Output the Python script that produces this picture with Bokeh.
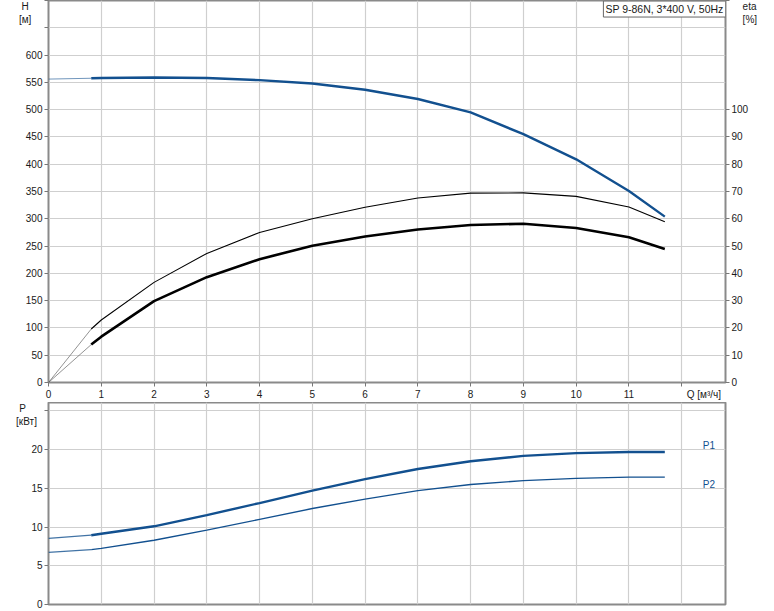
from bokeh.plotting import figure
from bokeh.models import Range1d, LinearAxis, FixedTicker, Label
from bokeh.layouts import column
from bokeh.embed import file_html
from bokeh.resources import INLINE

# ---- data ----
q = [0.81, 1, 2, 3, 4, 5, 6, 7, 8, 9, 10, 11, 11.68]
head = [557.5, 558, 559, 558, 554, 548, 536.5, 519.5, 495, 455, 409, 351, 304]
eta_pump = [19.6, 22.9, 36.7, 47.3, 55.0, 60.0, 64.2, 67.6, 69.4, 69.5, 68.2, 64.3, 58.9]
eta_total = [13.9, 16.8, 29.8, 38.6, 45.2, 50.1, 53.5, 56.1, 57.7, 58.2, 56.6, 53.2, 48.9]
p1_vals = [8.95, 9.14, 10.1, 11.55, 13.1, 14.7, 16.2, 17.5, 18.5, 19.2, 19.55, 19.7, 19.7]
p2_vals = [7.1, 7.26, 8.3, 9.6, 11.0, 12.4, 13.6, 14.7, 15.5, 16.0, 16.3, 16.45, 16.45]

q_lead = [0, 0.81]
head_lead = [556, 557.5]
eta_pump_lead = [0, 19.6]
eta_total_lead = [0, 13.9]
p1_lead = [8.55, 8.95]
p2_lead = [6.74, 7.1]

NB = "\u00a0"
H_MAX = 700
ETA_MAX = 140
P_MAX = 26.09

x_ticks = list(range(0, 13))
x_labels = {i: str(i) for i in range(0, 12)}
x_labels[12] = NB * 16 + "Q [м³/ч]"
h_ticks = list(range(0, 651, 50)) + [H_MAX]
h_labels = {t: str(t) for t in h_ticks}
h_labels[650] = ""
h_labels[H_MAX] = "H" + NB * 5 + "\n" + "[м]" + NB * 4
eta_ticks = list(range(0, 101, 10)) + [ETA_MAX]
eta_labels = {t: str(t) for t in eta_ticks}
eta_labels[ETA_MAX] = NB * 4 + "eta" + "\n" + NB * 4 + "[%]"
p_ticks = [0, 5, 10, 15, 20, 25]
p_labels = {0: "0", 5: "5", 10: "10", 15: "15", 20: "20", 25: "P" + NB * 6 + "\n" + "[кВт]" + NB * 2}

title_text = "SP 9-86N, 3*400 V, 50Hz"

FONT = "Liberation Sans"
FS = "10px"
BLUE = "#12508f"
AXIS = "#8a8a8a"
GRID = "#cfcfcf"
TXT = "#1a1a1a"

XMAX = 12.83


def style_axis(ax):
    ax.axis_line_color = None
    ax.major_tick_line_color = "#777777"
    ax.major_tick_out = 4
    ax.major_tick_in = 0
    ax.minor_tick_line_color = None
    ax.major_label_text_font = FONT
    ax.major_label_text_font_size = FS
    ax.major_label_text_color = TXT
    ax.major_label_standoff = 2


# ---------------- top figure ----------------
p = figure(frame_width=677, frame_height=382,
           x_range=Range1d(0, XMAX), y_range=Range1d(0, H_MAX),
           output_backend="svg", toolbar_location=None,
           min_border_left=48, min_border_right=47, min_border_top=0, min_border_bottom=18,
           background_fill_color="white", border_fill_color="white")
p.outline_line_color = AXIS
p.outline_line_width = 2
p.extra_y_ranges = {"eta": Range1d(0, ETA_MAX)}

p.xaxis.ticker = FixedTicker(ticks=x_ticks)
p.xaxis.major_label_overrides = x_labels
p.yaxis.ticker = FixedTicker(ticks=h_ticks)
p.yaxis.major_label_overrides = h_labels
eta_axis = LinearAxis(y_range_name="eta", ticker=FixedTicker(ticks=eta_ticks))
eta_axis.major_label_overrides = eta_labels
p.add_layout(eta_axis, "right")
for ax in p.axis:
    style_axis(ax)
p.xgrid.grid_line_color = GRID
p.ygrid.grid_line_color = GRID
p.ygrid.ticker = FixedTicker(ticks=list(range(0, 651, 50)))
p.xgrid.grid_line_width = 1.2
p.ygrid.grid_line_width = 1.2

# lead-in segments (thin)
p.line(q_lead, head_lead, line_color=BLUE, line_width=1, line_alpha=0.6)
p.line(q_lead, eta_pump_lead, y_range_name="eta", line_color="#555555", line_width=0.8, line_alpha=0.8)
p.line(q_lead, eta_total_lead, y_range_name="eta", line_color="#555555", line_width=0.8, line_alpha=0.8)
# main curves
p.line(q, head, line_color=BLUE, line_width=2.4)
p.line(q, eta_pump, y_range_name="eta", line_color="black", line_width=1.1)
p.line(q, eta_total, y_range_name="eta", line_color="black", line_width=2.6)

p.add_layout(Label(x=XMAX, y=H_MAX - 1, text=title_text, text_align="right", text_baseline="top",
                   text_font=FONT, text_font_size="10.5px", text_color=TXT,
                   background_fill_color="white", border_line_color="#666666",
                   border_line_width=1, padding=2))

# ---------------- bottom figure ----------------
b = figure(frame_width=677, frame_height=202,
           x_range=Range1d(0, XMAX), y_range=Range1d(0, P_MAX),
           output_backend="svg", toolbar_location=None,
           min_border_left=48, min_border_right=47, min_border_top=0, min_border_bottom=8,
           background_fill_color="white", border_fill_color="white")
b.outline_line_color = AXIS
b.outline_line_width = 2
b.xaxis.visible = False
b.yaxis.ticker = FixedTicker(ticks=p_ticks)
b.yaxis.major_label_overrides = p_labels
for ax in b.yaxis:
    style_axis(ax)
b.xgrid.ticker = FixedTicker(ticks=x_ticks)
b.xgrid.grid_line_color = GRID
b.ygrid.grid_line_color = GRID
b.xgrid.grid_line_width = 1.2
b.ygrid.grid_line_width = 1.2

b.line(q_lead, p1_lead, line_color=BLUE, line_width=1.2, line_alpha=0.8)
b.line(q_lead, p2_lead, line_color=BLUE, line_width=1.2, line_alpha=0.8)
b.line(q, p1_vals, line_color=BLUE, line_width=2.4)
b.line(q, p2_vals, line_color=BLUE, line_width=1.3)

b.add_layout(Label(x=12.4, y=20.55, text="P1", text_align="left", text_baseline="middle",
                   text_font=FONT, text_font_size=FS, text_color=BLUE))
b.add_layout(Label(x=12.4, y=15.5, text="P2", text_align="left", text_baseline="middle",
                   text_font=FONT, text_font_size=FS, text_color=BLUE))

layout = column(p, b, spacing=0)
open("out.html", "w").write(file_html(layout, INLINE))
